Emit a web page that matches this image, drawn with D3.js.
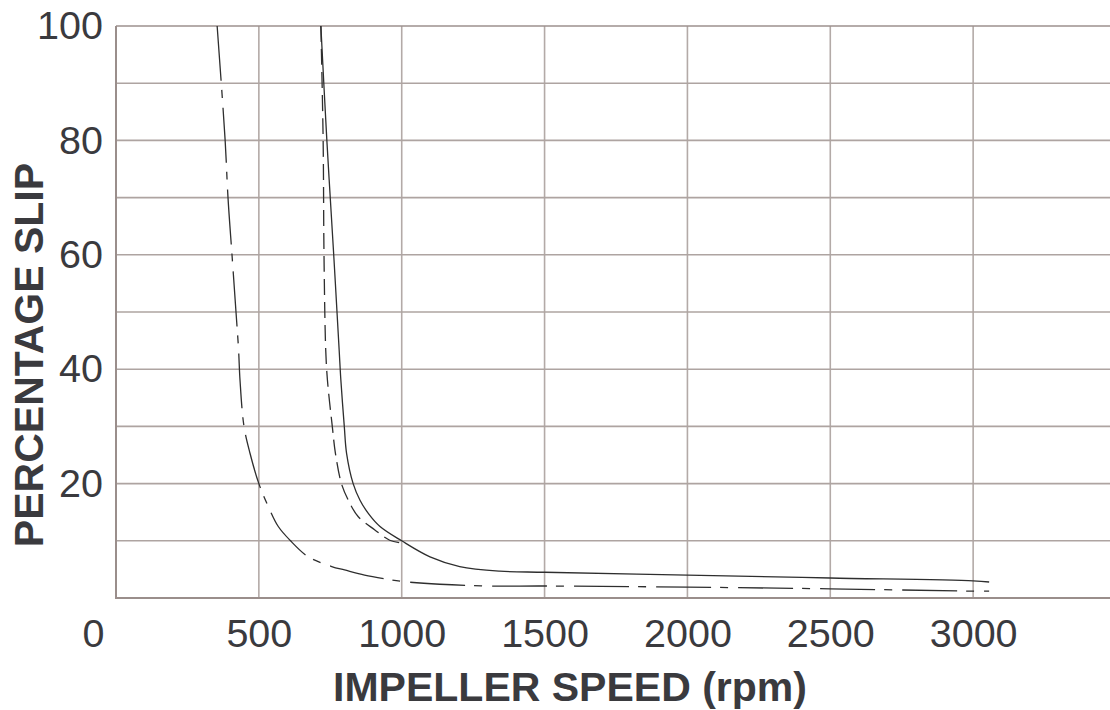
<!DOCTYPE html>
<html>
<head>
<meta charset="utf-8">
<script src="https://cdn.jsdelivr.net/npm/d3@7"></script>
<style>
  html, body { margin: 0; padding: 0; background: #fff; }
  svg { display: block; }
  text { font-family: "Liberation Sans", Arial, Helvetica, sans-serif; fill: #3a3a3e; }
</style>
</head>
<body>
<svg id="chart" width="1110" height="710"></svg>
<script>
// ---- data ----
const xTicks = [0, 500, 1000, 1500, 2000, 2500, 3000];
const yTickLabels = [20, 40, 60, 80, 100];
const yGrid = [10, 20, 30, 40, 50, 60, 70, 80, 90, 100];

// dash-dot curve
const rpmA  = [354, 382, 392, 406, 420, 429, 434, 448, 469, 500, 533, 568, 609, 673, 755, 800, 870, 947, 1000, 1133, 1308, 1500, 2000, 2500, 3000, 3056];
const slipA = [100, 80, 70, 60, 50, 43.4, 38.1, 30, 25.3, 20, 16, 12.5, 10.1, 7.2, 5.5, 4.9, 4.0, 3.3, 2.9, 2.4, 2.1, 2.1, 1.9, 1.6, 1.2, 1.2];

// solid curve
const rpmB  = [717, 738, 762, 781, 787, 799, 807, 830, 854, 883, 924, 1000, 1099, 1203, 1343, 1500, 2000, 2500, 3000, 3056];
const slipB = [100, 80, 60, 43.4, 38.1, 30, 25.3, 20, 17.1, 14.8, 12.5, 10, 7.2, 5.5, 4.7, 4.5, 4.0, 3.5, 3.0, 2.8];

// dashed curve
const rpmC  = [717, 725, 728, 734, 740, 757, 768, 789, 813, 848, 906, 958, 1000];
const slipC = [100, 80, 60, 43.4, 38.1, 30, 25.3, 20, 17.1, 14.2, 11.9, 10.1, 9.6];

const xLabel = "IMPELLER SPEED (rpm)";
const yLabel = "PERCENTAGE SLIP";

// ---- layout ----
const svg = d3.select("#chart");
const x = d3.scaleLinear().domain([0, 3500]).range([116, 1116]);
const y = d3.scaleLinear().domain([0, 100]).range([598, 26]);

// grid
svg.append("g").selectAll("line").data(xTicks.filter(d => d > 0)).join("line")
  .attr("x1", d => x(d)).attr("x2", d => x(d))
  .attr("y1", y(0)).attr("y2", y(100))
  .attr("stroke", "#b3aaa7").attr("stroke-width", 1.6);

svg.append("g").selectAll("line").data(yGrid).join("line")
  .attr("x1", x(0)).attr("x2", 1110)
  .attr("y1", d => y(d)).attr("y2", d => y(d))
  .attr("stroke", d => d === 100 ? "#9d918e" : "#aea4a1").attr("stroke-width", 1.6);

// frame
svg.append("line").attr("x1", x(0)).attr("x2", x(0)).attr("y1", y(0)).attr("y2", y(100))
  .attr("stroke", "#9a8e8b").attr("stroke-width", 2);
svg.append("line").attr("x1", x(0) - 1).attr("x2", 1110).attr("y1", y(0)).attr("y2", y(0))
  .attr("stroke", "#9a8e8b").attr("stroke-width", 2);

// axes labels (via d3 axes, no domain/ticks lines)
const xAxis = svg.append("g").attr("transform", `translate(0,${y(0)})`)
  .call(d3.axisBottom(x).tickValues(xTicks).tickSize(0).tickPadding(21).tickFormat(d3.format("d")));
xAxis.select(".domain").remove();
xAxis.selectAll("text").style("font-size", "39.5px").attr("fill", "#3a3a3e")
  .attr("dx", d => d === 0 ? -23 : 0);

const yAxis = svg.append("g").attr("transform", `translate(${x(0)},0)`)
  .call(d3.axisLeft(y).tickValues(yTickLabels).tickSize(0).tickPadding(13).tickFormat(d3.format("d")));
yAxis.select(".domain").remove();
yAxis.selectAll("text").style("font-size", "39.5px").attr("fill", "#3a3a3e");

svg.append("text").attr("x", 570).attr("y", 701).attr("text-anchor", "middle")
  .style("font-size", "41px").style("font-weight", "bold").text(xLabel);
svg.append("text").attr("transform", "translate(43,355) rotate(-90)").attr("text-anchor", "middle")
  .style("font-size", "41px").style("font-weight", "bold").text(yLabel);

// curves
const line = d3.line().x(d => x(d[0])).y(d => y(d[1])).curve(d3.curveCatmullRom.alpha(0.5));
const series = [
  { r: rpmA, s: slipA, dash: "55,9,8,10" },
  { r: rpmB, s: slipB, dash: null },
  { r: rpmC, s: slipC, dash: "16,7" }
];
series.forEach(sr => {
  const pts = sr.r.map((v, i) => [v, sr.s[i]]);
  const p = svg.append("path").attr("d", line(pts)).attr("fill", "none")
    .attr("stroke", "#2e2e2e").attr("stroke-width", 1.3);
  if (sr.dash) p.attr("stroke-dasharray", sr.dash);
});
</script>
</body>
</html>
